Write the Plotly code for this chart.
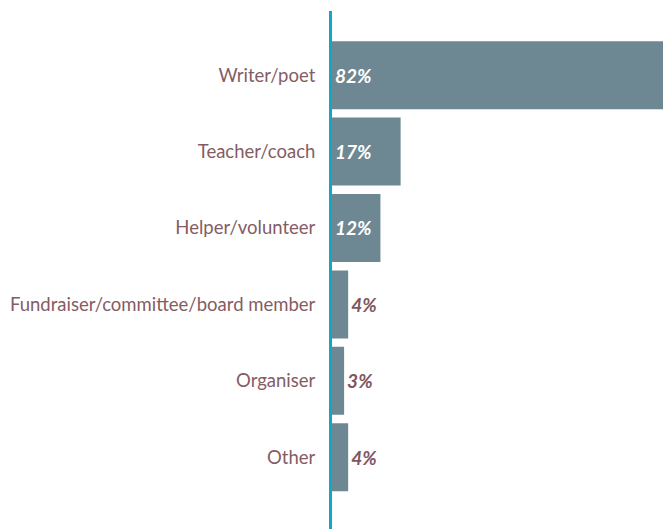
import plotly.graph_objects as go

categories = ["Writer/poet", "Teacher/coach", "Helper/volunteer",
              "Fundraiser/committee/board member", "Organiser", "Other"]
values = [82, 17, 12, 4, 3, 4]
labels = [f"{v}%" for v in values]
positions = ["inside", "inside", "inside", "outside", "outside", "outside"]
text_colors = ["#ffffff" if p == "inside" else "#7e5660" for p in positions]

vfont = dict(family="Lato", size=19, color=text_colors, weight="bold", style="italic")

fig = go.Figure(go.Bar(
    x=values, y=categories, orientation="h",
    marker=dict(color="#6e8893", line=dict(width=0)),
    text=labels, textposition=positions, insidetextanchor="start",
    textfont=vfont, outsidetextfont=vfont, insidetextfont=vfont,
    cliponaxis=False,
))

fig.update_layout(
    width=663, height=529,
    margin=dict(l=332, r=0, t=11, b=0),
    paper_bgcolor="white", plot_bgcolor="white",
    bargap=0.11, showlegend=False,
)
fig.update_xaxes(range=[0, 82], visible=False, showgrid=False, zeroline=False)
fig.update_yaxes(
    range=[5.94, -0.84], showgrid=False, zeroline=False,
    showline=True, linecolor="#14a6c6", linewidth=3,
    tickfont=dict(family="Lato", size=18.5, color="#845c63"),
    ticks="", ticklabelstandoff=10,
)

fig.write_html("out.html",
               config={"displayModeBar": False},
               post_script="document.body.style.margin='0';document.body.style.overflow='hidden';")
